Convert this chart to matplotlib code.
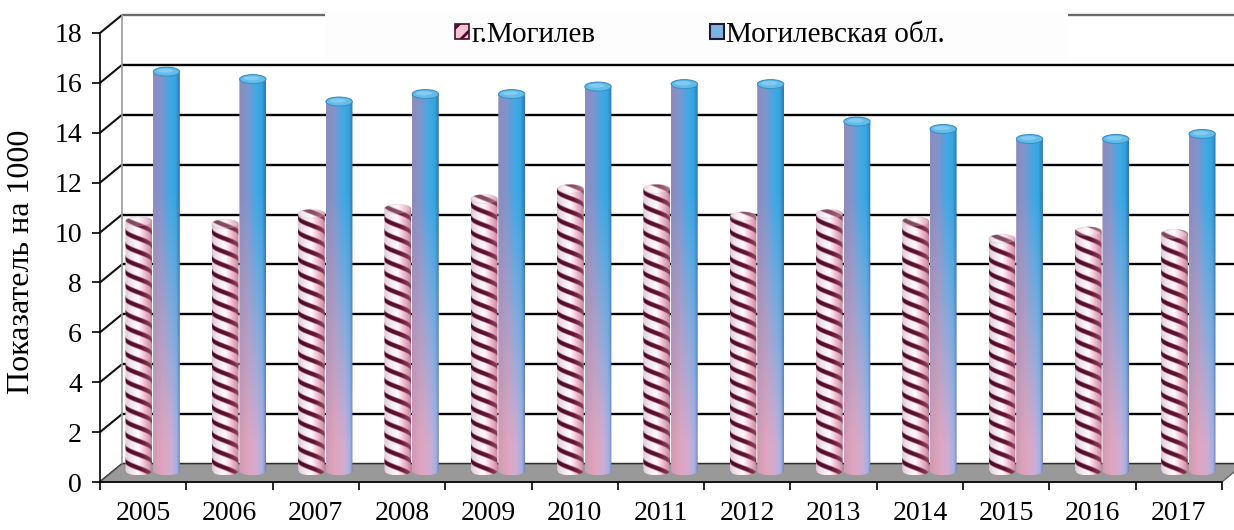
import numpy as np
import matplotlib
matplotlib.use('Agg')
import matplotlib.pyplot as plt
from matplotlib.patches import Polygon, Rectangle, Ellipse, PathPatch, Patch
from matplotlib.path import Path

# ---------------- data ----------------
years = ['2005', '2006', '2007', '2008', '2009', '2010', '2011',
         '2012', '2013', '2014', '2015', '2016', '2017']
city = [10.0, 9.9, 10.3, 10.5, 10.9, 11.3, 11.3, 10.2, 10.3, 10.0, 9.3, 9.6, 9.5]
region = [16.0, 15.7, 14.8, 15.1, 15.1, 15.4, 15.5, 15.5, 14.0, 13.7, 13.3, 13.3, 13.5]
yticks = [0, 2, 4, 6, 8, 10, 12, 14, 16, 18]
series_names = ['г.Могилев', 'Могилевская обл.']
ylabel = 'Показатель на 1000'

plt.rcParams['font.family'] = ['Liberation Serif', 'DejaVu Serif']
plt.rcParams['hatch.color'] = '#6a1038'
plt.rcParams['hatch.linewidth'] = 2.0

W, H = 1234, 530
fig = plt.figure(figsize=(W / 100, H / 100), dpi=100)
ax = fig.add_axes([100 / W, 48 / H, 1122 / W, 449 / H])
n = len(years)
ymax = 18
ax.set_xlim(0, n)
ax.set_ylim(0, ymax)

px_x = 1122 / n          # pixels per category
px_y = 449 / ymax        # pixels per value unit
dx = 22 / px_x           # depth offset (x)
dy = 18 / px_y           # depth offset (y)

# ---------------- walls / floor ----------------
for v in yticks:
    col = '#000000' if v < ymax else '#6a6a6a'
    ax.plot([0, dx], [v, v + dy], color='#111111', lw=1.5, clip_on=False, zorder=1,
            solid_capstyle='butt')
    ax.plot([dx, n + dx], [v + dy, v + dy], color=col, lw=1.7, clip_on=False, zorder=1,
            solid_capstyle='butt')
ax.plot([dx, dx], [dy, ymax + dy], color='#9a9a9a', lw=1.2, clip_on=False, zorder=1)

floor = Polygon([(0, 0), (n, 0), (n + dx, dy), (dx, dy)], closed=True,
                facecolor='#999999', edgecolor='#555555', lw=0.8, clip_on=False, zorder=2)
ax.add_patch(floor)

# ---------------- cylinders ----------------
bw = 0.31
base = 0.45
ry = 4.5 / px_y


def cyl_path(xc, w, y0, y1, r):
    t = np.linspace(np.pi, 2 * np.pi, 50)
    lower = np.column_stack([xc + w / 2 * np.cos(t), y0 + r * np.sin(t)])
    t2 = np.linspace(0, np.pi, 50)
    upper = np.column_stack([xc + w / 2 * np.cos(t2), y1 + r * np.sin(t2)])
    verts = np.vstack([lower, upper, lower[:1]])
    codes = [Path.MOVETO] + [Path.LINETO] * (len(verts) - 2) + [Path.CLOSEPOLY]
    return Path(verts, codes)


def interp_cols(u, knots, cols):
    cols = np.array(cols, dtype=float) / 255.0
    return np.stack([np.interp(u, knots, cols[:, k]) for k in range(3)], axis=-1)


def blue_image(y0, y1, nr, nc):
    u = np.linspace(0, 1, nc)
    y = np.linspace(y0 - ry, y1 + ry, nr)
    top = interp_cols(u, [0, 0.3, 0.62, 0.85, 1.0],
                      [(140, 140, 188), (128, 148, 205), (68, 168, 228), (52, 165, 226), (48, 118, 172)])
    bot = interp_cols(u, [0, 0.35, 0.7, 0.9, 1.0],
                      [(205, 155, 180), (225, 165, 190), (205, 172, 212), (160, 178, 228), (120, 130, 185)])
    wgt = np.clip((y - 1.5) / 10.0, 0, 1)[:, None, None]
    img = bot[None, :, :] * (1 - wgt) + top[None, :, :] * wgt
    return np.clip(img, 0, 1)


def striped_image(y0, y1, nr, nc):
    u = np.linspace(0, 1, nc)
    y = np.linspace(y0 - ry, y1 + ry, nr)
    bg = interp_cols(u, [0, 0.5, 0.72, 1.0],
                     [(242, 220, 232), (255, 248, 252), (244, 196, 212), (218, 146, 172)])
    st = interp_cols(u, [0, 0.6, 1.0], [(78, 10, 40), (98, 18, 50), (150, 70, 100)])
    ypx = y[:, None] * px_y
    phase = (ypx + 5.0 * np.arcsin(np.clip(2 * u[None, :] - 1, -1, 1))) / 13.5
    s = 0.5 + 0.5 * np.cos(2 * np.pi * phase)
    dark = np.clip((s - 0.62) / 0.2, 0, 1)[:, :, None]
    img = bg[None, :, :] * (1 - dark) + st[None, :, :] * dark
    shade = (0.88 + 0.12 * np.sqrt(np.clip(1 - (2 * u - 1) ** 2, 0, 1)))[None, :, None]
    return np.clip(img * shade, 0, 1)


def draw_cyl(xc, val, kind, z):
    y0 = base
    y1 = base + val
    nr = int((val + 2 * ry) * px_y * 2) + 2
    nc = int(bw * px_x * 2) + 2
    img = blue_image(y0, y1, nr, nc) if kind == 'blue' else striped_image(y0, y1, nr, nc)
    im = ax.imshow(img, extent=(xc - bw / 2, xc + bw / 2, y0 - ry, y1 + ry),
                   origin='lower', aspect='auto', interpolation='bilinear', zorder=z)
    clip = PathPatch(cyl_path(xc, bw, y0, y1, ry), transform=ax.transData)
    im.set_clip_path(clip)
    if kind == 'blue':
        cap = Ellipse((xc, y1), bw * 0.98, 2 * ry, facecolor='#62bdea',
                      edgecolor='#3f8fc4', lw=0.8, zorder=z + 0.1)
        ax.add_patch(cap)
        hl = Ellipse((xc - bw * 0.05, y1 + ry * 0.2), bw * 0.6, ry * 0.9,
                     facecolor='#9ad6f4', edgecolor='none', alpha=0.6, zorder=z + 0.2)
        ax.add_patch(hl)
    else:
        cap = Ellipse((xc, y1), bw * 0.98, 2 * ry, facecolor='#ffffff', alpha=0.25,
                      edgecolor='#c8a0b0', lw=0.8, zorder=z + 0.1)
        ax.add_patch(cap)


for i in range(n):
    draw_cyl(i + 0.77, region[i], 'blue', 3 + i * 0.01)
for i in range(n):
    draw_cyl(i + 0.45, city[i], 'striped', 4 + i * 0.01)

ax.set_xlim(0, n)
ax.set_ylim(0, ymax)

# ---------------- axes ----------------
for s in ['top', 'right']:
    ax.spines[s].set_visible(False)
for s in ['left', 'bottom']:
    ax.spines[s].set_color('#000000')
    ax.spines[s].set_linewidth(1.2)
    ax.spines[s].set_zorder(6)

ax.set_yticks(yticks)
ax.set_yticklabels([str(v) for v in yticks])
ax.set_xticks(np.arange(n + 1))
ax.set_xticklabels([])
ax.set_xticks(np.arange(n) + 0.5, minor=True)
ax.set_xticklabels(years, minor=True)
ax.tick_params(axis='y', direction='out', length=6, width=1.2, pad=7, labelsize=20)
ax.tick_params(axis='x', which='major', direction='out', length=6, width=1.2)
ax.tick_params(axis='x', which='minor', length=0, pad=14, labelsize=20)
ax.set_ylabel(ylabel, fontsize=23, va='center')
ax.yaxis.set_label_coords(-78 / 1122, 0.49)
ax.patch.set_visible(False)

# ---------------- legend ----------------
bg = Rectangle((325 / W, (H - 62) / H), (1068 - 325) / W, 50 / H, transform=fig.transFigure,
               facecolor='#fdfdfd', edgecolor='none', zorder=10)
fig.add_artist(bg)
handles = [Patch(facecolor='#f2c4d4', edgecolor='#4a0a2a', hatch='//', lw=1.2),
           Patch(facecolor='#7fb2e2', edgecolor='#1a1a3a', lw=1.5)]
leg = fig.legend(handles, series_names, loc='center', bbox_to_anchor=(700 / W, (H - 35) / H),
                 bbox_transform=fig.transFigure, ncol=2, frameon=False, fontsize=21,
                 handlelength=0.5, handleheight=0.45, handletextpad=0.08, columnspacing=3.9,
                 borderpad=0.1)
leg.set_zorder(11)

fig.savefig('out.png', dpi=100)
